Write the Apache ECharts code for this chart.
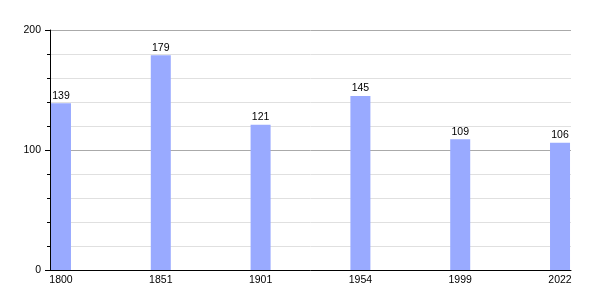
<!DOCTYPE html>
<html><head><meta charset="utf-8">
<script src="https://cdn.jsdelivr.net/npm/echarts@6/dist/echarts.min.js"></script>
<style>html,body{margin:0;padding:0;background:#fff}#c{width:600px;height:300px}</style>
</head><body><div id="c"></div>
<script>
const years = ['1800', '1851', '1901', '1954', '1999', '2022'];
const population = [139, 179, 121, 145, 109, 106];
const yTicks = [0, 100, 200];

const chart = echarts.init(document.getElementById('c'), null, {renderer: 'canvas'});
const font = 'Liberation Sans, Arial, sans-serif';
chart.setOption({
  animation: false,
  backgroundColor: '#fff',
  grid: {left: 50, right: 29, top: 30, bottom: 30, containLabel: false},
  xAxis: {
    type: 'value', min: -0.11, max: 5.11,
    axisLine: {show: true, onZero: false, lineStyle: {color: '#000', width: 1}},
    axisTick: {show: false},
    splitLine: {show: false},
    axisLabel: {
      customValues: years.map((y, i) => i),
      formatter: v => years[Math.round(v)],
      color: '#000', fontSize: 10.5, fontFamily: font, margin: 5
    }
  },
  yAxis: {
    type: 'value', min: yTicks[0], max: yTicks[yTicks.length - 1], interval: 100,
    axisLine: {show: true, onZero: false, lineStyle: {color: '#000', width: 1}},
    axisTick: {show: true, length: 5, lineStyle: {color: '#000'}},
    minorTick: {show: true, splitNumber: 5, length: 3, lineStyle: {color: '#000'}},
    splitLine: {show: true, lineStyle: {color: '#aaa', width: 1}},
    minorSplitLine: {show: true, lineStyle: {color: '#e0e0e0', width: 1}},
    axisLabel: {color: '#000', fontSize: 10.5, fontFamily: font, margin: 9}
  },
  series: [{
    type: 'bar',
    data: population.map((v, i) => [i, v]),
    barWidth: 20,
    itemStyle: {color: '#99aaff'},
    label: {show: true, position: 'top', color: '#000', fontSize: 10.5, fontFamily: font, distance: 2}
  }]
});
</script></body></html>
